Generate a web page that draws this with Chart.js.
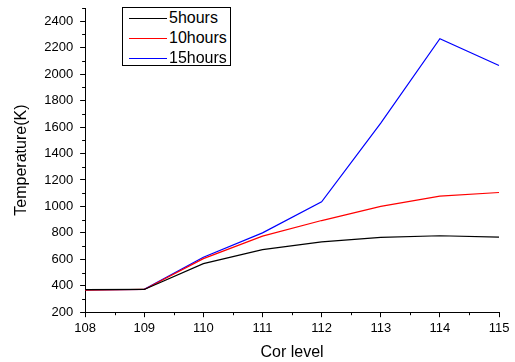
<!DOCTYPE html>
<html>
<head>
<meta charset="utf-8">
<script src="https://cdn.jsdelivr.net/npm/chart.js@4/dist/chart.umd.min.js"></script>
<style>
  html, body { margin: 0; padding: 0; background: #fff; }
  #wrap { position: relative; width: 515px; height: 362px; }
  #legend { position: absolute; left: 122px; top: 7px; width: 109px; height: 59px; border: 1px solid #000; box-sizing: border-box;
            font-family: "Liberation Sans", Arial, sans-serif; font-size: 16px; color: #000; background: #fff; }
  #legend .row { position: absolute; left: 0; height: 20px; width: 100%; }
  #legend .swatch { position: absolute; left: 6px; top: 10px; width: 38px; height: 0; border-top: 1.2px solid #000; }
  #legend .lbl { position: absolute; left: 46px; top: 1px; line-height: 18px; }
</style>
</head>
<body>
<div id="wrap">
  <canvas id="chart" width="515" height="362"></canvas>
  <div id="legend"></div>
</div>
<script>
/* Temperature vs Cor level */
const levels = ['108', '109', '110', '111', '112', '113', '114', '115'];
const temp5h = [370, 372, 567, 673, 732, 765, 778, 767];
const temp10h = [366, 372, 605, 775, 893, 1000, 1078, 1105];
const temp15h = [368, 373, 615, 800, 1035, 1630, 2268, 2065];
const seriesNames = ['5hours', '10hours', '15hours'];
const seriesColors = ['#000000', '#ff0000', '#0000ff'];
const yTicks = [200, 400, 600, 800, 1000, 1200, 1400, 1600, 1800, 2000, 2200, 2400];

const FONT = '"Liberation Sans", Arial, sans-serif';

// minor ticks like the Origin axes
const minorTicks = {
    id: 'minorTicks',
    afterDraw(chart) {
        const ctx = chart.ctx, x = chart.scales.x, y = chart.scales.y;
        ctx.save();
        ctx.strokeStyle = '#000';
        ctx.lineWidth = 1;
        ctx.beginPath();
        for (let v = 300; v <= 2500; v += 200) {
            const py = Math.round(y.getPixelForValue(v)) + 0.5;
            ctx.moveTo(x.left - 3, py); ctx.lineTo(x.left, py);
        }
        for (let i = 0; i < levels.length - 1; i++) {
            const px = Math.round((x.getPixelForValue(i) + x.getPixelForValue(i + 1)) / 2) + 0.5;
            ctx.moveTo(px, y.bottom); ctx.lineTo(px, y.bottom + 3);
        }
        ctx.stroke();
        ctx.restore();
    }
};

const data = [temp5h, temp10h, temp15h];
new Chart(document.getElementById('chart'), {
    type: 'line',
    data: {
        labels: levels,
        datasets: data.map((d, i) => ({
            label: seriesNames[i],
            data: d,
            borderColor: seriesColors[i],
            borderWidth: 1.2,
            pointRadius: 0,
            tension: 0,
            fill: false
        }))
    },
    options: {
        responsive: false,
        animation: false,
        layout: { padding: { top: 8, right: 16, left: 12, bottom: 0 } },
        plugins: { legend: { display: false }, tooltip: { enabled: false } },
        scales: {
            x: {
                type: 'category',
                offset: false,
                grid: { display: true, drawOnChartArea: false, drawTicks: true, tickLength: 5, color: '#000', offset: false },
                border: { display: true, color: '#000', width: 1 },
                ticks: { color: '#000', font: { family: FONT, size: 13 }, padding: 3, maxRotation: 0, autoSkip: false },
                title: { display: true, text: 'Cor level', color: '#000', font: { family: FONT, size: 16 }, padding: { top: 4, bottom: 0 } }
            },
            y: {
                min: 200,
                max: 2500,
                afterBuildTicks: s => { s.ticks = yTicks.map(v => ({ value: v })); },
                afterFit: s => { s.paddingTop = 0; },
                grid: { display: true, drawOnChartArea: false, drawTicks: true, tickLength: 5, color: '#000' },
                border: { display: true, color: '#000', width: 1 },
                ticks: { color: '#000', font: { family: FONT, size: 13 }, padding: 7, callback: v => String(v) },
                title: { display: true, text: 'Temperature(K)', color: '#000', font: { family: FONT, size: 16 }, padding: { top: 0, bottom: 6 } }
            }
        }
    },
    plugins: [minorTicks]
});

// legend box
const lg = document.getElementById('legend');
lg.innerHTML = seriesNames.map((n, i) =>
    `<div class="row" style="top:${i * 20}px"><span class="swatch" style="border-top-color:${seriesColors[i]}"></span><span class="lbl">${n}</span></div>`
).join('');
</script>
</body>
</html>
